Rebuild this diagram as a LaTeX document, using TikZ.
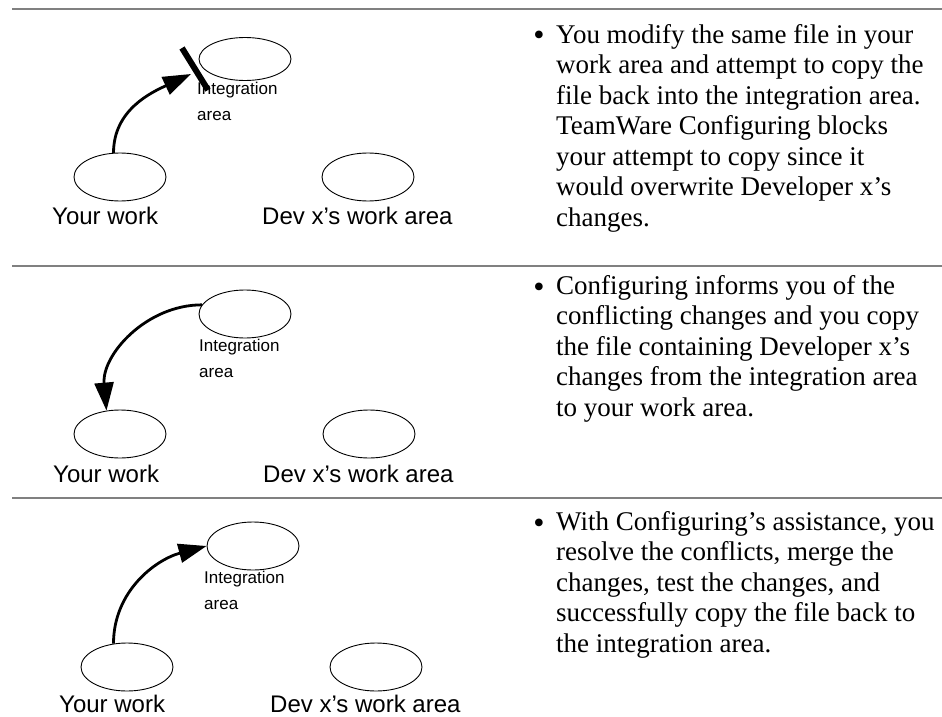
\documentclass[tikz,border=0pt]{standalone}
\usepackage{fontspec}
\setmainfont{Liberation Serif}
\setsansfont{Liberation Sans}
\usetikzlibrary{arrows.meta,shapes.geometric,positioning}

\tikzset{
  area/.style={draw, ellipse, line width=0.9pt, minimum width=92pt, minimum height=48pt, inner sep=0pt},
  lbl/.style={font=\sffamily\fontsize{24}{28}\selectfont, inner sep=0pt},
  intlbl/.style={font=\sffamily\fontsize{17}{26}\selectfont, align=left, inner sep=0pt, anchor=north west},
  note/.style={font=\fontsize{27}{30.5}\selectfont, align=left, inner sep=0pt, anchor=north west},
  dot/.style={font=\fontsize{32}{32}\selectfont, inner sep=0pt, anchor=base},
  copyarrow/.style={-{Triangle[length=28pt, width=19pt]}, line width=2.8pt},
  rule/.style={draw=gray, line width=1.6pt}
}

\begin{document}
\begin{tikzpicture}[x=1pt, y=-1pt]
        \useasboundingbox (0,0) rectangle (942,717);
        \coordinate (r1a) at (12,9);   \coordinate (r1b) at (942,9);
        \coordinate (r2a) at (12,266); \coordinate (r2b) at (942,266);
        \coordinate (r3a) at (12,498); \coordinate (r3b) at (942,498);
        \draw[rule, line width=2.2pt] (r1a) -- (r1b);
        \draw[rule] (r2a) -- (r2b);
        \draw[rule] (r3a) -- (r3b);

        \node[area, minimum height=43pt] (int1) at (245,59) {};
        \node[area] (you1) at (120,177) {};
        \node[area] (dev1) at (368,177) {};
        \node[intlbl] (intlbl1) at (197,82) {Integration\\area};
        \node[lbl, anchor=base west] (youlbl1) at (52,224) {Your work};
        \node[lbl, anchor=base west] (devlbl1) at (262,224) {Dev x's work area};
        \coordinate (stop1) at (191,74);
        \coordinate (bara) at (182,48);
        \coordinate (barb) at (208,90);
        \draw[copyarrow] (you1.105) to[out=90, in=205] (stop1);
        \draw[line width=6pt] (bara) -- (barb);

        \node[area] (int2) at (245,314) {};
        \node[area] (you2) at (120,434) {};
        \node[area] (dev2) at (369,434) {};
        \node[intlbl] (intlbl2) at (199,339) {Integration\\area};
        \node[lbl, anchor=base west] (youlbl2) at (53,482) {Your work};
        \node[lbl, anchor=base west] (devlbl2) at (263,482) {Dev x's work area};
        \draw[copyarrow] (int2.168) to[out=180, in=95] (you2.120);

        \node[area] (int3) at (253,546) {};
        \node[area] (you3) at (127,667) {};
        \node[area] (dev3) at (376,667) {};
        \node[intlbl] (intlbl3) at (204,571) {Integration\\area};
        \node[lbl, anchor=base west] (youlbl3) at (59,712) {Your work};
        \node[lbl, anchor=base west] (devlbl3) at (270,712) {Dev x's work area};
        \draw[copyarrow] (you3.120) to[out=90, in=195] (int3.west);

        \node[note] (note1) at (556,24) {You modify the same file in your\\work area and attempt to copy the\\file back into the integration area.\\TeamWare Configuring blocks\\your attempt to copy since it\\would overwrite Developer x's\\changes.};
        \node[note] (note2) at (556,275) {Configuring informs you of the\\conflicting changes and you copy\\the file containing Developer x's\\changes from the integration area\\to your work area.};
        \node[note] (note3) at (556,511) {With Configuring's assistance, you\\resolve the conflicts, merge the\\changes, test the changes, and\\successfully copy the file back to\\the integration area.};
        \node[dot] (dot1) at (539,46) {\textbullet};
        \node[dot] (dot2) at (539,297) {\textbullet};
        \node[dot] (dot3) at (539,533) {\textbullet};
    \end{tikzpicture}
\end{document}
